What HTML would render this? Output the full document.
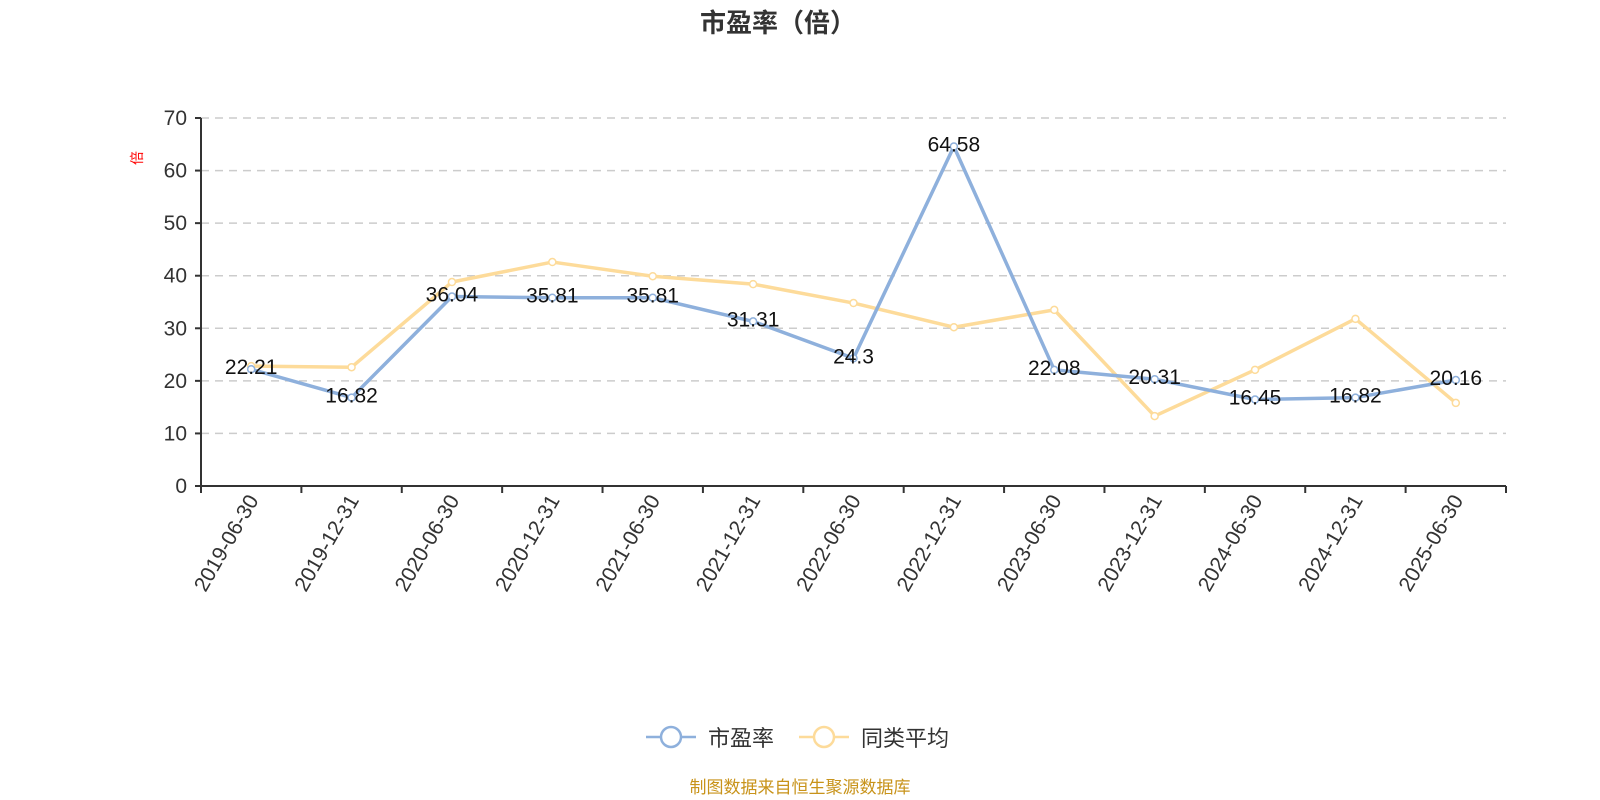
<!DOCTYPE html>
<html><head><meta charset="utf-8"><style>
body{margin:0;background:#fff;}
svg{display:block;font-family:"Liberation Sans","Noto Sans CJK SC",sans-serif;}
</style></head><body>
<svg id="chart" width="1600" height="800" viewBox="0 0 1600 800">
<text x="778" y="32" text-anchor="middle" font-size="26" font-weight="bold" fill="#333">市盈率（倍）</text>
<text transform="translate(142,158) rotate(-90)" text-anchor="middle" font-size="14" fill="#f00">倍</text>
<g id="grid"></g><g id="axes"></g><g id="series"></g>
<g>
<g>
<line x1="646" y1="737" x2="696" y2="737" stroke="#8eb0dc" stroke-width="2.5"/>
<circle cx="671" cy="737" r="10" fill="#fff" stroke="#8eb0dc" stroke-width="2.5"/>
<text x="708" y="746" font-size="22" fill="#333">市盈率</text></g>
<g>
<line x1="799" y1="737" x2="849" y2="737" stroke="#fddb9a" stroke-width="2.5"/>
<circle cx="824" cy="737" r="10" fill="#fff" stroke="#fddb9a" stroke-width="2.5"/>
<text x="861" y="746" font-size="22" fill="#333">同类平均</text></g>
</g>
<text x="800" y="793" text-anchor="middle" font-size="17" fill="#c8931a">制图数据来自恒生聚源数据库</text>
</svg>
<script>
const categories=["2019-06-30","2019-12-31","2020-06-30","2020-12-31","2021-06-30","2021-12-31","2022-06-30","2022-12-31","2023-06-30","2023-12-31","2024-06-30","2024-12-31","2025-06-30"];
const peValues=[22.21,16.82,36.04,35.81,35.81,31.31,24.3,64.58,22.08,20.31,16.45,16.82,20.16];
const peerAvg=[22.8,22.6,38.8,42.6,39.9,38.4,34.8,30.2,33.5,13.3,22.1,31.8,15.8];
const yTicks=[0,10,20,30,40,50,60,70];
const NS="http://www.w3.org/2000/svg";
const X0=201,X1=1506,Y0=486,Y1=118,YMAX=70;
const band=(X1-X0)/categories.length;
const xs=i=>X0+band*(i+0.5);
const ys=v=>Y0-(v/YMAX)*(Y0-Y1);
function mk(t,a,p){const e=document.createElementNS(NS,t);for(const k in a)e.setAttribute(k,a[k]);p.appendChild(e);return e;}
const grid=document.getElementById('grid'),axes=document.getElementById('axes'),ser=document.getElementById('series');
yTicks.forEach(v=>{
 if(v>0){const g=mk('line',{x1:X0,x2:X1,y1:ys(v),y2:ys(v),stroke:'#ccc','stroke-dasharray':'8,6','stroke-width':1.5},grid);
 
 }
 const tk=mk('line',{x1:X0-6,x2:X0,y1:ys(v),y2:ys(v),stroke:'#333','stroke-width':2},axes);
 
 
 const t=mk('text',{x:X0-14,y:ys(v)+7,'text-anchor':'end','font-size':21,fill:'#333'},axes);
 
 
 t.textContent=v;
});
const ya=mk('line',{x1:X0,x2:X0,y1:Y1,y2:Y0,stroke:'#333','stroke-width':2},axes);


const xa=mk('line',{x1:X0,x2:X1,y1:Y0,y2:Y0,stroke:'#333','stroke-width':2},axes);


for(let i=0;i<=categories.length;i++){
 const tk=mk('line',{x1:X0+band*i,x2:X0+band*i,y1:Y0,y2:Y0+7,stroke:'#333','stroke-width':2},axes);
 
 
}
categories.forEach((c,i)=>{
 const t=mk('text',{transform:`translate(${xs(i)+8},${Y0+14}) rotate(-60)`,'text-anchor':'end','font-size':21,fill:'#333'},axes);
 
 
 t.textContent=c;
});
function series(vals,color,name,labels){
 const pts=vals.map((v,i)=>xs(i)+','+ys(v)).join(' ');
 const pl=mk('polyline',{points:pts,fill:'none',stroke:color,'stroke-width':3.5,'stroke-linejoin':'round'},ser);
 
 
 vals.forEach((v,i)=>{
  const c=mk('circle',{cx:xs(i),cy:ys(v),r:3.5,fill:'#fff',stroke:color,'stroke-width':1.5},ser);
  
  
 });
}
series(peerAvg,'#fddb9a','peer-average');
series(peValues,'#8eb0dc','pe');
peValues.forEach((v,i)=>{
 const t=mk('text',{x:xs(i),y:ys(v)+5,'text-anchor':'middle','font-size':21,fill:'#111'},ser);
 
 
 t.textContent=v;
});
</script>
</body></html>
